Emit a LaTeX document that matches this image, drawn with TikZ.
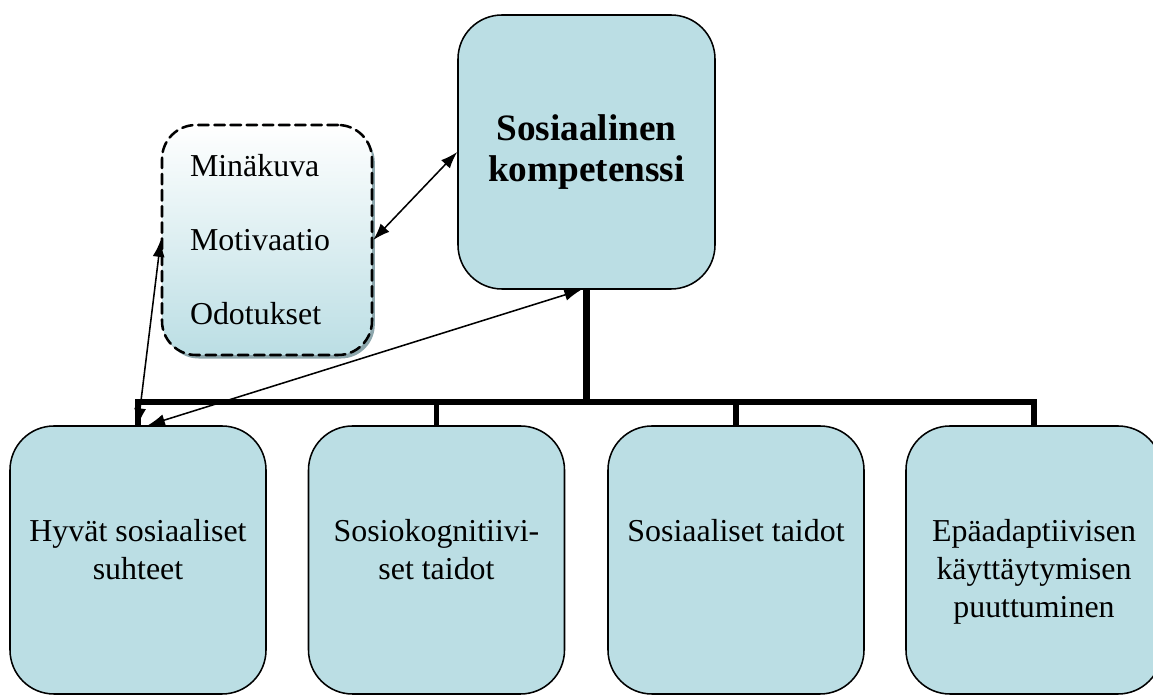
\documentclass[tikz,border=0pt]{standalone}
\usepackage{fontspec}
\setmainfont{Liberation Serif}
\usepackage{xcolor}
\usetikzlibrary{positioning,calc,arrows.meta,shadows}

\definecolor{boxblue}{RGB}{187,222,228}
\definecolor{shadowgray}{RGB}{140,166,172}

\begin{document}
\begin{tikzpicture}[
	x=1cm,y=1cm,
	>={Latex[length=12pt,width=8.5pt]},
	line cap=round,line join=round,
	rbox/.style={draw=black, line width=1.1pt, fill=boxblue, rounded corners=1.1cm,
		minimum width=6.4cm, minimum height=6.7cm, inner sep=0pt},
	btxt/.style={align=center, anchor=north, inner sep=0pt,
		font=\fontsize{22.7}{26.8}\selectfont},
	link/.style={<->, line width=1.1pt},
	bus/.style={line width=3.8pt, line cap=butt, line join=miter}
	]
	%----- frame
	\useasboundingbox (0,0) rectangle (28.825,17.4);
	\clip (0,0) rectangle (28.825,17.4);
	
	%----- top box
	\node[rbox, minimum width=6.425cm, minimum height=6.85cm, align=center,
		font=\fontsize{26.5}{29.5}\selectfont\bfseries] (komp) at (14.6625,13.6)
		{Sosiaalinen\\kompetenssi};
	
	%----- dashed box with the three factors
	\node[draw=black, line width=1.8pt, dash pattern=on 7.5pt off 4pt,
		rounded corners=0.85cm, top color=white, bottom color=boxblue,
		drop shadow={shadow xshift=2pt, shadow yshift=-2.5pt, fill=shadowgray, opacity=1},
		minimum height=5.75cm, text width=3.85cm, inner xsep=0.7cm, align=left,
		font=\fontsize{22.7}{52.6}\selectfont] (mina) at (6.675,11.4)
		{Minäkuva\\Motivaatio\\Odotukset};
	
	%----- bottom row
	\def\rowY{3.4}
	\def\txtDrop{2.35}
	
	\node[rbox] (hyva) at (3.45,\rowY) {};
	\node[btxt] (hyvaT) at ($(hyva.north)+(0,-\txtDrop)$) {Hyvät sosiaaliset\\suhteet};
	
	\node[rbox] (sosio) at (10.9125,\rowY) {};
	\node[btxt] (sosioT) at ($(sosio.north)+(0,-\txtDrop)$) {Sosiokognitiivi-\\set taidot};
	
	\node[rbox] (taidot) at (18.4,\rowY) {};
	\node[btxt] (taidotT) at ($(taidot.north)+(0,-\txtDrop)$) {Sosiaaliset taidot};
	
	\node[rbox] (epa) at (25.85,\rowY) {};
	\node[btxt] (epaT) at ($(epa.north)+(0,-\txtDrop)$) {Epäadaptiivisen\\käyttäytymisen\\puuttuminen};
	
	%----- tree lines
	\coordinate (busY) at (0,7.35);
	\draw[bus, line width=4.5pt] (komp.south) -- (komp.south |- busY);
	\draw[bus] (hyva.north) -- (hyva.north |- busY) -- (epa.north |- busY) -- (epa.north);
	\draw[bus] (sosio.north) -- (sosio.north |- busY);
	\draw[bus] (taidot.north) -- (taidot.north |- busY);
	
	%----- two-way arrows
	\draw[link] (mina.east) -- (komp.west);
	\draw[link] (mina.west) -- (hyva.north);
	\draw[link] ([xshift=-0.13cm]komp.south) -- ([xshift=0.25cm]hyva.north);
	
\end{tikzpicture}
\end{document}
